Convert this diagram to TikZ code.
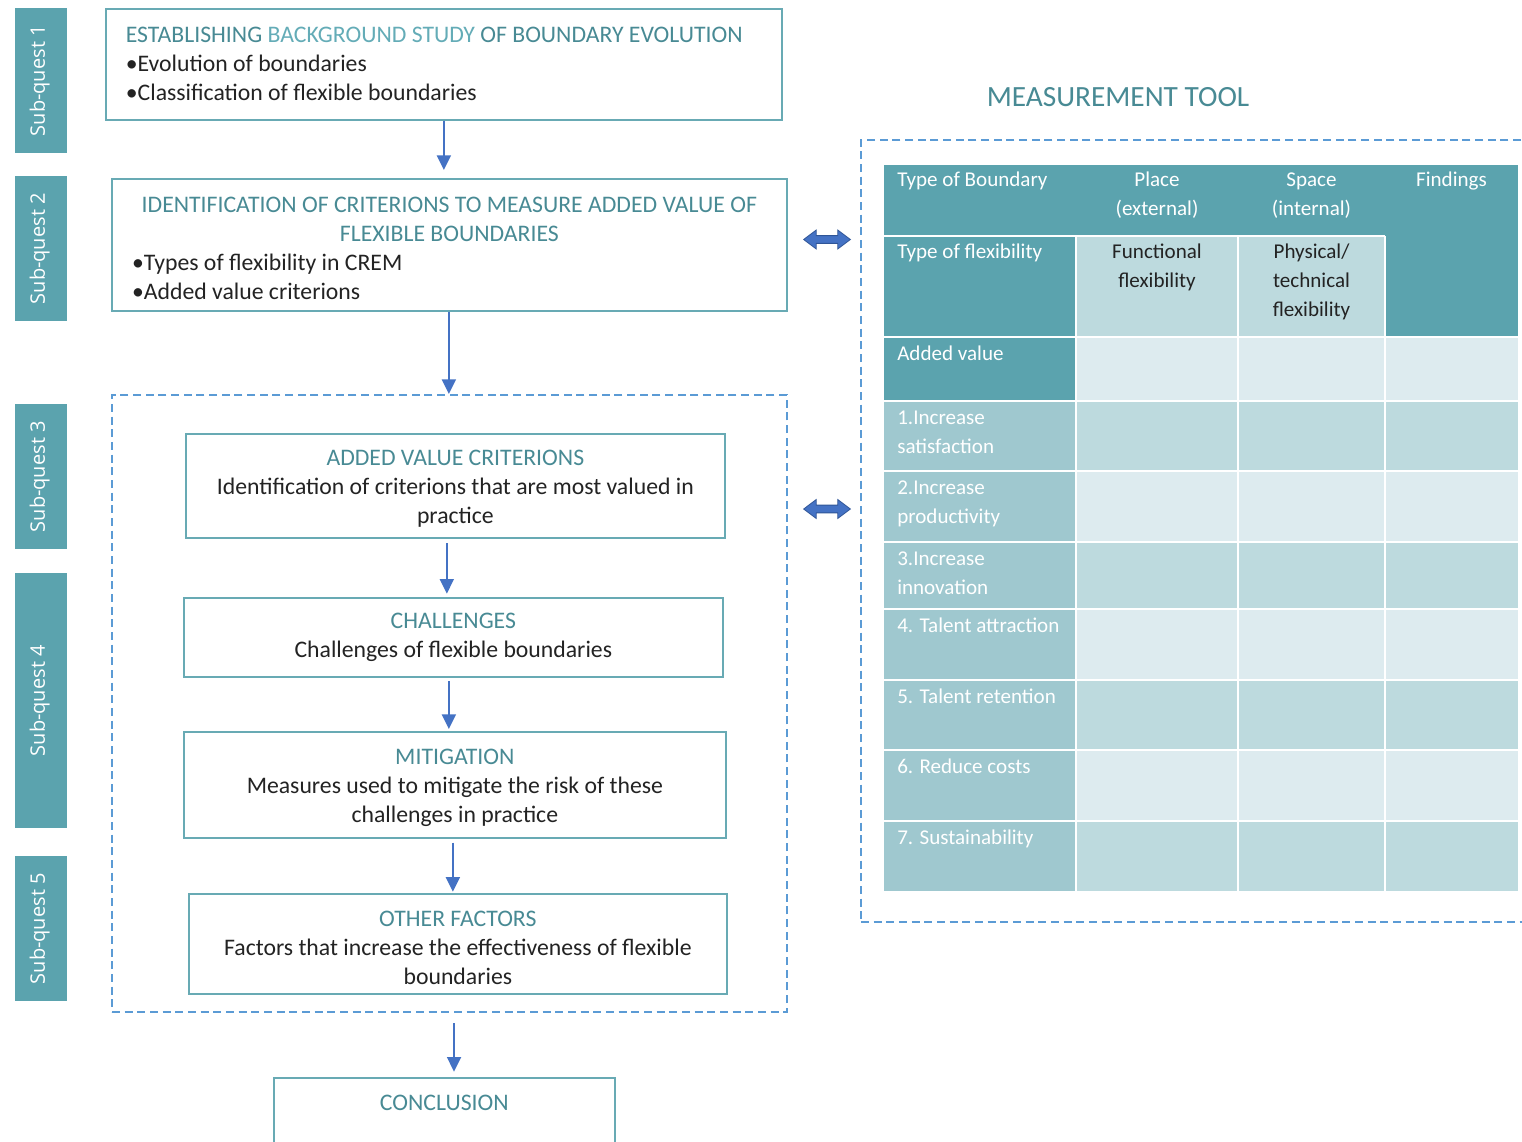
\documentclass[tikz,border=0pt]{standalone}
\usepackage{fontspec}
\setmainfont{Carlito}
\newfontfamily\sqfont{Open Sans}
\usetikzlibrary{arrows.meta,shapes.arrows}
\setlength{\parindent}{0pt}
\definecolor{tdark}{RGB}{72,138,148}
\definecolor{tlight}{RGB}{100,172,183}
\definecolor{boxc}{RGB}{104,170,180}
\definecolor{barc}{RGB}{91,163,174}
\definecolor{dashc}{RGB}{91,155,213}
\definecolor{arrc}{RGB}{68,114,196}
\definecolor{darc}{RGB}{47,85,151}
\definecolor{cdark}{RGB}{91,163,174}
\definecolor{cmed}{RGB}{159,200,207}
\definecolor{clight}{RGB}{189,218,222}
\definecolor{cvlight}{RGB}{221,235,239}
\definecolor{txt}{RGB}{35,35,35}
\newcommand{\lowr}{\rule{0pt}{16.5pt}}
\begin{document}
\begin{tikzpicture}[x=0.75pt,y=-0.75pt,
  box/.style={draw=boxc, line width=1.3pt, inner sep=0pt, fill=white, text=txt,
    anchor=north west, font=\fontsize{17.8}{21.75}\selectfont},
  bar/.style={fill=barc, inner sep=0pt, anchor=north west, minimum width=39pt},
  sqtext/.style={rotate=90, text=white, font=\sqfont\fontsize{15}{17}\selectfont},
  grp/.style={draw=dashc, line width=1.5pt, dash pattern=on 6pt off 3.5pt, inner sep=0pt,
    anchor=north west},
  arr/.style={draw=arrc, line width=1.5pt, -{Triangle[width=10.5pt,length=11pt]}},
  darrow/.style={double arrow, double arrow head extend=4.2pt, double arrow tip angle=74,
    inner sep=2.6pt, minimum height=35pt, fill=arrc, draw=darc, line width=0.6pt},
  tw/.style={anchor=north west, inner sep=0pt, align=left, text=white,
    font=\fontsize{15.8}{21.75}\selectfont},
  tc/.style={anchor=north, inner sep=0pt, align=center, text=txt,
    font=\fontsize{15.8}{21.75}\selectfont},
  tcw/.style={tc, text=white},
]
\clip (0,0) rectangle (1522,1142);
\fill[white] (0,0) rectangle (1522,1142);

% sub-quest bars
\node[bar, minimum height=108.75pt] (s1) at (15,8) {};
\node[bar, minimum height=108.75pt] (s2) at (15,176) {};
\node[bar, minimum height=108.75pt] (s3) at (15,404) {};
\node[bar, minimum height=191.25pt] (s4) at (15,573) {};
\node[bar, minimum height=108.75pt] (s5) at (15,856) {};
\node[sqtext] (s1t) at ([xshift=-1.2pt]s1.center) {Sub-quest 1};
\node[sqtext] (s2t) at ([xshift=-1.2pt]s2.center) {Sub-quest 2};
\node[sqtext] (s3t) at ([xshift=-1.2pt]s3.center) {Sub-quest 3};
\node[sqtext] (s4t) at ([xshift=-1.2pt]s4.center) {Sub-quest 4};
\node[sqtext] (s5t) at ([xshift=-1.2pt]s5.center) {Sub-quest 5};

% left flow
\node[box, minimum width=507pt, minimum height=83.25pt, align=left] (b1) at (105,8)
  {\makebox[477pt][l]{\color{tdark}ESTABLISHING \textcolor{tlight}{BACKGROUND STUDY} OF BOUNDARY EVOLUTION}\\
   \textbullet Evolution of boundaries\\
   \textbullet Classification of flexible boundaries};
\node[box, minimum width=506.25pt, minimum height=99pt, align=left] (b2) at (111,178)
  {\lowr\makebox[476pt][c]{\color{tdark}IDENTIFICATION OF CRITERIONS TO MEASURE ADDED VALUE OF}\\
   \makebox[476pt][c]{\color{tdark}FLEXIBLE BOUNDARIES}\\
   \textbullet Types of flexibility in CREM\\
   \textbullet Added value criterions};

\node[grp, minimum width=506.25pt, minimum height=462.75pt] (g1) at (111,394) {};

\node[box, minimum width=404.25pt, minimum height=78pt, align=center] (b3) at (185,433)
  {\lowr{\color{tdark}ADDED VALUE CRITERIONS}\\
   Identification of criterions that are most valued in\\ practice};
\node[box, minimum width=404.25pt, minimum height=59.25pt, align=center] (b4) at (183,597)
  {{\color{tdark}CHALLENGES}\\ Challenges of flexible boundaries};
\node[box, minimum width=406.5pt, minimum height=79.5pt, align=center] (b5) at (183,731)
  {\lowr{\color{tdark}MITIGATION}\\ Measures used to mitigate the risk of these\\ challenges in practice};
\node[box, minimum width=403.5pt, minimum height=75pt, align=center] (b6) at (188,893)
  {\lowr\rule{0pt}{18pt}{\color{tdark}OTHER FACTORS}\\ Factors that increase the effectiveness of flexible\\ boundaries};
\node[box, minimum width=255.75pt, minimum height=75pt] (b7) at (273,1077) {};
\node[anchor=north, inner sep=0pt, text=tdark, font=\fontsize{17.8}{21.75}\selectfont]
  (b7t) at ([yshift=-13.5pt]b7.north) {CONCLUSION};

\draw[arr, shorten >=6pt] (b1.south) -- (b1.south |- b2.north);
\draw[arr] ([xshift=-0.4pt]b2.south) -- ([xshift=-0.4pt]b2.south |- g1.north);
\draw[arr, shorten <=3.5pt, shorten >=2.5pt] ([xshift=-6.4pt]b3.south) -- ([xshift=-6.4pt]b3.south |- b4.north);
\draw[arr, shorten <=2.5pt, shorten >=1.5pt] ([xshift=-3.4pt]b4.south) -- ([xshift=-3.4pt]b4.south |- b5.north);
\draw[arr, shorten <=3pt, shorten >=1pt] ([xshift=-1.5pt]b5.south) -- ([xshift=-1.5pt]b5.south |- b6.north);
\draw[arr, shorten <=7.5pt, shorten >=4pt] ([xshift=3.4pt]g1.south) -- ([xshift=3.4pt]g1.south |- b7.north);

% right side
\node[text=tdark, inner sep=0pt, font=\fontsize{22}{26}\selectfont] (mt) at (1118,97) {MEASUREMENT TOOL};
\node[grp, minimum width=510pt, minimum height=586.5pt] (g2) at (860,139) {};
\node[darrow] (d1) at (827,239.5) {};
\node[darrow] (d2) at (827,509) {};

% table fills
\fill[cdark] (884,165) rectangle (1518,236);
\fill[cdark] (1385,165) rectangle (1518,337);
\fill[cdark] (884,236) rectangle (1076,401);
\fill[clight] (1076,236) rectangle (1385,337);
\fill[cvlight] (1076,337) rectangle (1518,401);
\fill[cmed] (884,401) rectangle (1076,891);
\fill[clight] (1076,401) rectangle (1518,471);
\fill[cvlight] (1076,471) rectangle (1518,542);
\fill[clight] (1076,542) rectangle (1518,609);
\fill[cvlight] (1076,609) rectangle (1518,680);
\fill[clight] (1076,680) rectangle (1518,750);
\fill[cvlight] (1076,750) rectangle (1518,821);
\fill[clight] (1076,821) rectangle (1518,891);
% white grid
\begin{scope}[draw=white, line width=1.6pt]
\draw (884,236) -- (1385,236);
\foreach \r in {337,401,471,542,609,680,750,821} \draw (884,\r) -- (1518,\r);
\foreach \c in {1076,1238,1385} \draw (\c,236) -- (\c,891);
\end{scope}

% table text
\node[tw] (h1) at (897,166) {\strut Type of Boundary};
\node[tcw] (h2) at (1157,166) {\strut Place\\(external)};
\node[tcw] (h3) at (1311.5,166) {\strut Space\\(internal)};
\node[tcw] (h4) at (1451.5,166) {\strut Findings};
\node[tw] (r1) at (897,238) {\strut Type of flexibility};
\node[tc] (r1b) at (1157,238) {\strut Functional\\flexibility};
\node[tc] (r1c) at (1311.5,238) {\strut Physical/\\technical\\flexibility};
\node[tw] (r2) at (897,340) {\strut Added value};
\node[tw] (r3) at (897,404) {\strut 1.Increase\\satisfaction};
\node[tw] (r4) at (897,474) {\strut 2.Increase\\productivity};
\node[tw] (r5) at (897,544.5) {\strut 3.Increase\\innovation};
\node[tw] (r6) at (897,612) {\strut 4. Talent attraction};
\node[tw] (r7) at (897,683) {\strut 5. Talent retention};
\node[tw] (r8) at (897,753) {\strut 6. Reduce costs};
\node[tw] (r9) at (897,824) {\strut 7. Sustainability};
\end{tikzpicture}
\end{document}
